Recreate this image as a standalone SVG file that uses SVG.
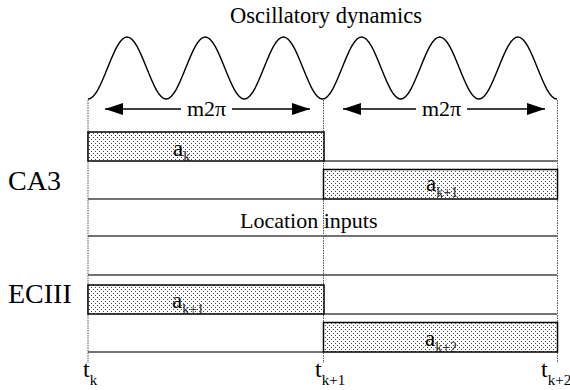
<svg xmlns="http://www.w3.org/2000/svg" width="570" height="390" viewBox="0 0 570 390">
<style>
text{font-family:"Liberation Serif","Times New Roman",serif;fill:#000}
.title{font-size:22.5px}
.big{font-size:28px}
.m{font-size:22px}
.lbl{font-size:23px}
.sub{font-size:14px;fill:#222}
.t{font-size:22px}
.tt{font-size:24px}
.ts{font-size:15px}
.wave{fill:none;stroke:#000;stroke-width:1.4}
.dot{stroke:#555;stroke-width:1;stroke-dasharray:1.5 1;fill:none}
.bar{fill:url(#dots);stroke:#000;stroke-width:1.5}
.hl{stroke:#444;stroke-width:1.5;fill:none}
.arr{stroke:#000;stroke-width:1.4;fill:none}
</style>
<defs>
<pattern id="dots" width="4" height="4" patternUnits="userSpaceOnUse">
<rect width="4" height="4" fill="#fff"/>
<rect x="1" y="1" width="1" height="1" fill="#444"/>
<rect x="3" y="3" width="1" height="1" fill="#444"/>
</pattern>
<marker id="ah" viewBox="0 0 18 12" refX="18" refY="6" markerWidth="18" markerHeight="12" markerUnits="userSpaceOnUse" orient="auto-start-reverse">
<path d="M0,0 L18,6 L0,12 z" fill="#000"/>
</marker>
</defs>

<g id="title"><text class="title" x="326" y="23" text-anchor="middle">Oscillatory dynamics</text></g>

<g id="wave">
<path class="wave" d="M88,99 C102.23,99 112.85,37 127.08,37 S151.94,99 166.17,99 S191.02,37 205.25,37 S230.10,99 244.33,99 S269.19,37 283.42,37 S308.27,99 322.5,99 S347.35,37 361.58,37 S386.44,99 400.67,99 S425.52,37 439.75,37 S464.60,99 478.83,99 S503.69,37 517.92,37 S542.77,99 557,99"/>
</g>

<g id="timelines">
<line class="dot" x1="88" y1="100" x2="88" y2="363"/>
<line class="dot" x1="323.5" y1="100" x2="323.5" y2="363"/>
<line class="dot" x1="557.5" y1="100" x2="557.5" y2="363"/>
</g>

<g id="connectors">
<line class="arr" x1="181" y1="109" x2="105" y2="109" marker-end="url(#ah)"/>
<line class="arr" x1="232" y1="109" x2="310" y2="109" marker-end="url(#ah)"/>
<line class="arr" x1="416" y1="109" x2="343" y2="109" marker-end="url(#ah)"/>
<line class="arr" x1="467" y1="109" x2="545" y2="109" marker-end="url(#ah)"/>
</g>

<g id="period1"><text class="m" x="206.5" y="116" text-anchor="middle">m2π</text></g>
<g id="period2"><text class="m" x="441.5" y="116" text-anchor="middle">m2π</text></g>

<g id="rows">
<line class="hl" x1="324" y1="161" x2="557" y2="161"/>
<line class="hl" x1="88" y1="199" x2="323" y2="199"/>
<line class="hl" x1="88" y1="236" x2="557" y2="236"/>
<line class="hl" x1="88" y1="275" x2="557" y2="275"/>
<line class="hl" x1="324" y1="314" x2="557" y2="314"/>
<line class="hl" x1="88" y1="352" x2="323" y2="352"/>
</g>

<g id="CA3-label"><text class="big" x="8" y="190">CA3</text></g>
<g id="ECIII-label"><text class="big" x="8" y="303">ECIII</text></g>
<g id="location"><text class="t" x="240" y="228">Location inputs</text></g>

<g id="bar-ak">
<rect class="bar" x="88" y="132" width="236" height="29"/>
<text class="lbl" x="173" y="156">a<tspan class="sub" dy="4.5">k</tspan></text>
</g>
<g id="bar-ak1-ca3">
<rect class="bar" x="323.5" y="169.5" width="234" height="29.5"/>
<text class="lbl" x="426" y="191">a<tspan class="sub" dy="5.5">k+1</tspan></text>
</g>
<g id="bar-ak1-ec">
<rect class="bar" x="88" y="285" width="236" height="29"/>
<text class="lbl" x="172" y="308">a<tspan class="sub" dy="5.5">k+1</tspan></text>
</g>
<g id="bar-ak2">
<rect class="bar" x="323.5" y="322.5" width="234" height="29.5"/>
<text class="lbl" x="425" y="346">a<tspan class="sub" dy="5.5">k+2</tspan></text>
</g>

<g id="tk"><text class="tt" x="83" y="377">t<tspan class="ts" dy="8">k</tspan></text></g>
<g id="tk1"><text class="tt" x="315" y="377">t<tspan class="ts" dy="8">k+1</tspan></text></g>
<g id="tk2"><text class="tt" x="541" y="377">t<tspan class="ts" dy="8" font-size="14">k+2</tspan></text></g>
</svg>
